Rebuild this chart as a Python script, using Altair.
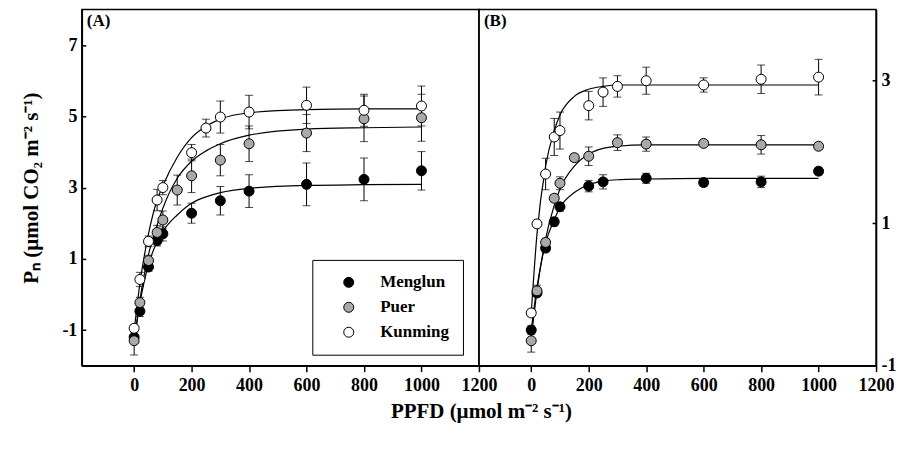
import altair as alt
import pandas as pd

SERIES = ["Menglun", "Puer", "Kunming"]
FILLS = ["#000000", "#a9a9a9", "#ffffff"]
X_TICKS = [0, 200, 400, 600, 800, 1000, 1200]
Y_TICKS_A = [-1, 1, 3, 5, 7]
Y_TICKS_B = [-1, 1, 3]
X_DOMAIN = [-182, 1200]
Y_DOMAIN_A = [-2, 8]
Y_DOMAIN_B = [-1, 4]

# ---------- Panel A: measured points (mean, SE) ----------
PPFD_A_MENGLUN = [0, 20, 50, 80, 100, 200, 300, 400, 600, 800, 1000]
PN_A_MENGLUN = [-1.20, -0.47, 0.77, 1.51, 1.70, 2.28, 2.63, 2.90, 3.09, 3.23, 3.47]
SE_A_MENGLUN = [0.15, 0.15, 0.12, 0.15, 0.20, 0.28, 0.40, 0.46, 0.60, 0.60, 0.54]

PPFD_A_PUER = [0, 20, 50, 80, 100, 150, 200, 300, 400, 600, 800, 1000]
PN_A_PUER = [-1.30, -0.23, 0.95, 1.74, 2.09, 2.93, 3.33, 3.77, 4.23, 4.53, 4.93, 4.96]
SE_A_PUER = [0.40, 0.15, 0.15, 0.20, 0.25, 0.42, 0.47, 0.44, 0.50, 0.52, 0.64, 0.66]

PPFD_A_KUNMING = [0, 20, 50, 80, 100, 200, 250, 300, 400, 600, 800, 1000]
PN_A_KUNMING = [-0.95, 0.42, 1.49, 2.65, 3.00, 3.98, 4.67, 4.98, 5.12, 5.31, 5.17, 5.29]
SE_A_KUNMING = [0.10, 0.20, 0.15, 0.30, 0.20, 0.23, 0.25, 0.45, 0.47, 0.51, 0.45, 0.56]

# ---------- Panel A: fitted curves ----------
CURVE_X = [0, 20, 50, 80, 100, 150, 200, 250, 300, 400, 600, 800, 1000]
CURVE_A_MENGLUN = [-1.30, -0.25, 0.84, 1.48, 1.77, 2.23, 2.56, 2.74, 2.86, 2.98, 3.06, 3.08, 3.09]
CURVE_A_PUER = [-1.40, -0.15, 1.12, 1.95, 2.42, 3.26, 3.74, 4.03, 4.23, 4.47, 4.64, 4.68, 4.70]
CURVE_A_KUNMING = [-1.02, 0.30, 1.70, 2.65, 3.05, 3.85, 4.40, 4.72, 4.92, 5.10, 5.19, 5.21, 5.21]

# ---------- Panel B: measured points (mean, SE) ----------
PPFD_B_MENGLUN = [0, 20, 50, 80, 100, 200, 250, 400, 600, 800, 1000]
PN_B_MENGLUN = [-0.50, 0.02, 0.65, 1.02, 1.23, 1.52, 1.58, 1.63, 1.57, 1.58, 1.73]
SE_B_MENGLUN = [0.06, 0.05, 0.05, 0.06, 0.06, 0.08, 0.10, 0.07, 0.05, 0.08, 0.05]

PPFD_B_PUER = [0, 20, 50, 80, 100, 150, 200, 300, 400, 600, 800, 1000]
PN_B_PUER = [-0.65, 0.05, 0.73, 1.35, 1.56, 1.92, 1.94, 2.13, 2.11, 2.12, 2.10, 2.08]
SE_B_PUER = [0.16, 0.08, 0.06, 0.05, 0.09, 0.05, 0.13, 0.11, 0.10, 0.04, 0.13, 0.04]

PPFD_B_KUNMING = [0, 20, 50, 80, 100, 200, 250, 300, 400, 600, 800, 1000]
PN_B_KUNMING = [-0.26, 0.99, 1.69, 2.21, 2.30, 2.65, 2.84, 2.92, 3.00, 2.94, 3.02, 3.05]
SE_B_KUNMING = [0.05, 0.05, 0.22, 0.26, 0.26, 0.20, 0.20, 0.15, 0.19, 0.10, 0.20, 0.25]

# ---------- Panel B: fitted curves ----------
CURVE_B_MENGLUN = [-0.50, 0.10, 0.72, 1.05, 1.22, 1.43, 1.54, 1.59, 1.61, 1.62, 1.63, 1.63, 1.63]
CURVE_B_PUER = [-0.62, 0.05, 0.78, 1.25, 1.48, 1.80, 1.97, 2.05, 2.08, 2.10, 2.10, 2.10, 2.10]
CURVE_B_KUNMING = [-0.26, 0.85, 1.80, 2.30, 2.52, 2.78, 2.88, 2.92, 2.94, 2.94, 2.94, 2.94, 2.94]


def pts_frame(series, xs, ys, es):
    return pd.DataFrame({
        "series": series, "ppfd": xs, "pn": ys,
        "lo": [y - e for y, e in zip(ys, es)],
        "hi": [y + e for y, e in zip(ys, es)],
    })


def curve_frame(series, ys):
    return pd.DataFrame({"series": series, "ppfd": CURVE_X, "pn": ys})


pts_A = pd.concat([
    pts_frame("Menglun", PPFD_A_MENGLUN, PN_A_MENGLUN, SE_A_MENGLUN),
    pts_frame("Puer", PPFD_A_PUER, PN_A_PUER, SE_A_PUER),
    pts_frame("Kunming", PPFD_A_KUNMING, PN_A_KUNMING, SE_A_KUNMING),
])
pts_B = pd.concat([
    pts_frame("Menglun", PPFD_B_MENGLUN, PN_B_MENGLUN, SE_B_MENGLUN),
    pts_frame("Puer", PPFD_B_PUER, PN_B_PUER, SE_B_PUER),
    pts_frame("Kunming", PPFD_B_KUNMING, PN_B_KUNMING, SE_B_KUNMING),
])
crv_A = pd.concat([
    curve_frame("Menglun", CURVE_A_MENGLUN),
    curve_frame("Puer", CURVE_A_PUER),
    curve_frame("Kunming", CURVE_A_KUNMING),
])
crv_B = pd.concat([
    curve_frame("Menglun", CURVE_B_MENGLUN),
    curve_frame("Puer", CURVE_B_PUER),
    curve_frame("Kunming", CURVE_B_KUNMING),
])

FONT = "Liberation Serif"
PLAIN = "datum.value + ''"


def panel(pts, crv, ydom, yticks, yorient, tag, xtitle, ytitle, legend):
    xsc = alt.Scale(domain=X_DOMAIN, nice=False, zero=False)
    ysc = alt.Scale(domain=ydom, nice=False, zero=False)
    xaxis_kw = dict(values=X_TICKS, grid=False, tickSize=6, labelPadding=5,
                    labelFlush=False, labelExpr=PLAIN)
    if xtitle:
        xaxis_kw.update(title=xtitle, titleX=400, titleAlign="center",
                        titlePadding=6)
    else:
        xaxis_kw.update(title=None)
    xaxis = alt.Axis(**xaxis_kw)
    yaxis_kw = dict(values=yticks, grid=False, orient=yorient,
                    tickSize=alt.ExprRef(expr="-4"), labelPadding=9,
                    labelFlush=False, labelExpr=PLAIN)
    if ytitle:
        yaxis_kw.update(title=ytitle, titlePadding=20)
    else:
        yaxis_kw.update(title=None)
    yaxis = alt.Axis(**yaxis_kw)

    lines = alt.Chart(crv).mark_line(
        color="black", strokeWidth=1.2, interpolate="monotone"
    ).encode(
        x=alt.X("ppfd:Q", scale=xsc, axis=xaxis),
        y=alt.Y("pn:Q", scale=ysc, axis=yaxis),
        detail="series:N",
    )
    rules = alt.Chart(pts).mark_rule(color="black", strokeWidth=1).encode(
        x="ppfd:Q", y="lo:Q", y2="hi:Q")
    cap_hi = alt.Chart(pts).mark_tick(
        color="black", orient="horizontal", size=8, thickness=1
    ).encode(x="ppfd:Q", y="hi:Q")
    cap_lo = alt.Chart(pts).mark_tick(
        color="black", orient="horizontal", size=8, thickness=1
    ).encode(x="ppfd:Q", y="lo:Q")
    dots = alt.Chart(pts).mark_circle(
        size=100, stroke="black", strokeWidth=1, opacity=1
    ).encode(
        x="ppfd:Q", y="pn:Q",
        fill=alt.Fill("series:N",
                      scale=alt.Scale(domain=SERIES, range=FILLS),
                      legend=legend),
    )
    label = alt.Chart(pd.DataFrame({"t": [tag]})).mark_text(
        font=FONT, fontWeight="bold", fontSize=17, align="left",
        baseline="middle", color="black"
    ).encode(text="t:N", x=alt.value(5), y=alt.value(12))
    return alt.layer(lines, rules, cap_hi, cap_lo, dots, label).properties(
        width=398, height=357)


legend_A = alt.Legend(
    orient="none", legendX=231, legendY=251, title=None,
    strokeColor="black", padding=14, symbolOffset=14, labelOffset=23,
    rowPadding=7, symbolType="circle", symbolSize=100,
    symbolStrokeColor="black", symbolStrokeWidth=1,
    labelFont=FONT, labelFontWeight="bold", labelFontSize=17,
    labelColor="black",
)

A = panel(pts_A, crv_A, Y_DOMAIN_A, Y_TICKS_A, "left", "(A)",
          "PPFD (\u00b5mol m\u207b\u00b2 s\u207b\u00b9)",
          "P\u2099 (\u00b5mol CO\u2082 m\u207b\u00b2 s\u207b\u00b9)", legend_A)
B = panel(pts_B, crv_B, Y_DOMAIN_B, Y_TICKS_B, "right", "(B)",
          None, None, None)

chart = alt.hconcat(A, B, spacing=0, bounds="flush").resolve_scale(
    y="independent"
).configure_view(
    stroke="black", strokeWidth=1.5
).configure_axis(
    domainColor="black", domainWidth=1.5, tickColor="black", tickWidth=1.5,
    labelFont=FONT, labelFontWeight="bold", labelFontSize=18,
    labelColor="black", titleFont=FONT, titleFontWeight="bold",
    titleFontSize=21, titleColor="black",
).properties(
    padding={"left": 12, "top": 0, "right": 2, "bottom": 4}
)

chart.save("out.html", embed_options={"renderer": "svg", "actions": False})
